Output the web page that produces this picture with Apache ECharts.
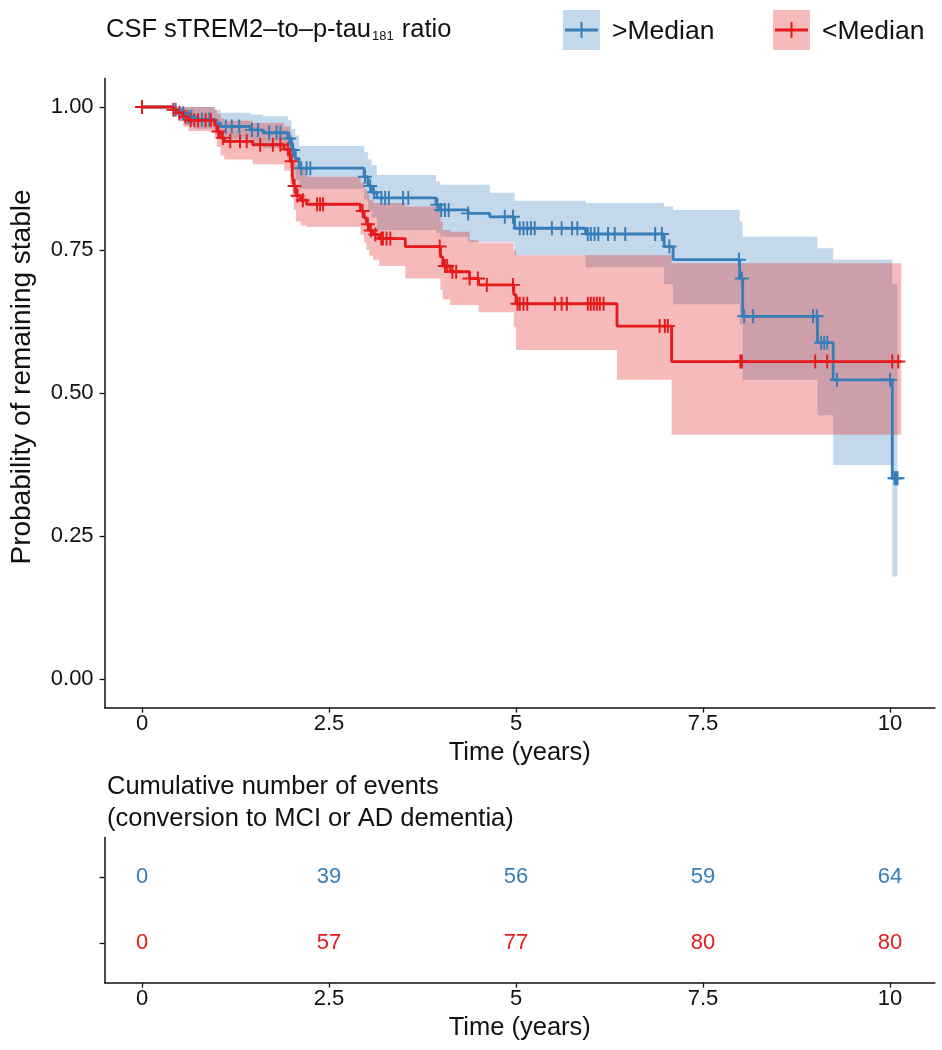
<!DOCTYPE html>
<html>
<head>
<meta charset="utf-8">
<script src="https://cdn.jsdelivr.net/npm/echarts@6/dist/echarts.min.js"></script>
<style>
html,body{margin:0;padding:0;background:#fff;}
#chart{width:942px;height:1050px;}
</style>
</head>
<body>
<div id="chart"></div>
<script>
// ---------- DATA ----------
const groupNames = ['>Median', '<Median'];
const groupRows = [1, 2];   // row positions in the events table (1 = top)

// >Median (blue) Kaplan-Meier step function
const blueTime  = [0, 0.42, 0.50, 0.58, 0.70, 0.98, 1.05, 1.45, 1.62, 1.95, 2.00, 2.05, 2.10, 2.97, 3.02, 3.07, 3.14, 3.93, 3.98, 4.36, 4.65, 4.98, 5.93, 6.98, 7.10, 7.99, 8.03, 9.03, 9.24, 10.03];
const blueSurv  = [1.000, 0.995, 0.989, 0.983, 0.978, 0.972, 0.966, 0.960, 0.955, 0.945, 0.925, 0.910, 0.893, 0.878, 0.862, 0.851, 0.841, 0.829, 0.820, 0.814, 0.808, 0.788, 0.778, 0.756, 0.733, 0.700, 0.634, 0.588, 0.523, 0.351];
const blueUpper = [1.000, 1.000, 1.000, 1.000, 1.000, 0.995, 0.990, 0.987, 0.984, 0.977, 0.962, 0.950, 0.932, 0.921, 0.908, 0.898, 0.881, 0.870, 0.864, 0.864, 0.850, 0.836, 0.832, 0.826, 0.820, 0.800, 0.773, 0.753, 0.733, 0.690];
const blueLower = [1.000, 0.985, 0.975, 0.968, 0.962, 0.952, 0.944, 0.936, 0.928, 0.915, 0.890, 0.873, 0.857, 0.838, 0.818, 0.806, 0.785, 0.780, 0.773, 0.764, 0.764, 0.741, 0.720, 0.690, 0.655, 0.620, 0.523, 0.461, 0.374, 0.179];
const blueEnd   = 10.10;
const blueCensor = [0.45, 0.55, 0.62, 0.66, 0.80, 0.90, 1.12, 1.20, 1.30, 1.47, 1.55, 1.70, 1.80, 1.85, 1.97, 2.02, 2.13, 2.20, 2.25, 2.98, 3.05, 3.10, 3.20, 3.25, 3.30, 3.49, 3.56, 3.95, 4.00, 4.05, 4.10, 4.36, 4.85, 4.96, 5.05, 5.10, 5.15, 5.20, 5.25, 5.48, 5.61, 5.75, 5.82, 5.96, 6.00, 6.05, 6.10, 6.23, 6.32, 6.46, 6.86, 6.95, 7.05, 7.98, 8.02, 8.05, 8.17, 8.97, 9.02, 9.08, 9.12, 9.16, 9.29, 10.00, 10.06, 10.08, 10.10];

// <Median (red) Kaplan-Meier step function
const redTime  = [0, 0.42, 0.48, 0.55, 0.62, 0.97, 1.00, 1.05, 1.10, 1.48, 1.90, 1.98, 2.01, 2.03, 2.06, 2.12, 2.20, 2.92, 2.97, 3.00, 3.04, 3.09, 3.17, 3.52, 3.99, 4.02, 4.12, 4.38, 4.50, 4.97, 5.00, 6.35, 7.08];
const redSurv  = [1.000, 0.995, 0.990, 0.983, 0.977, 0.968, 0.957, 0.946, 0.940, 0.934, 0.926, 0.905, 0.880, 0.862, 0.845, 0.837, 0.830, 0.818, 0.806, 0.795, 0.784, 0.777, 0.770, 0.756, 0.738, 0.722, 0.712, 0.700, 0.689, 0.672, 0.656, 0.617, 0.555];
const redUpper = [1.000, 1.000, 1.000, 1.000, 1.000, 0.995, 0.988, 0.980, 0.976, 0.972, 0.966, 0.951, 0.930, 0.915, 0.900, 0.890, 0.878, 0.868, 0.857, 0.848, 0.838, 0.832, 0.832, 0.826, 0.800, 0.785, 0.782, 0.767, 0.763, 0.750, 0.741, 0.741, 0.727];
const redLower = [1.000, 0.985, 0.975, 0.966, 0.958, 0.945, 0.930, 0.915, 0.908, 0.900, 0.889, 0.866, 0.840, 0.820, 0.800, 0.793, 0.790, 0.777, 0.763, 0.750, 0.740, 0.733, 0.722, 0.700, 0.680, 0.664, 0.654, 0.654, 0.641, 0.615, 0.575, 0.523, 0.427];
const redEnd   = 10.15;
const redCensor = [0.00, 0.42, 0.50, 0.58, 0.65, 0.70, 0.75, 0.85, 0.92, 1.02, 1.08, 1.18, 1.31, 1.40, 1.58, 1.75, 1.85, 1.95, 2.00, 2.04, 2.08, 2.15, 2.34, 2.38, 2.42, 2.95, 3.02, 3.06, 3.12, 3.20, 3.22, 3.27, 3.32, 3.98, 4.05, 4.08, 4.15, 4.20, 4.38, 4.49, 4.61, 4.96, 5.02, 5.05, 5.10, 5.15, 5.52, 5.61, 5.68, 5.96, 6.00, 6.04, 6.08, 6.12, 6.17, 6.92, 6.99, 7.03, 8.00, 8.02, 9.00, 9.16, 10.03, 10.11];

// Events table: cumulative number of events
const tableTimes  = [0, 2.5, 5, 7.5, 10];
const blueEvents  = [0, 39, 56, 59, 64];
const redEvents   = [0, 57, 77, 80, 80];

// Axis ticks
const xTicks = [0, 2.5, 5, 7.5, 10];
const xTickLabels = ['0', '2.5', '5', '7.5', '10'];
const yTicks = [0, 0.25, 0.5, 0.75, 1];
const yTickLabels = ['0.00', '0.25', '0.50', '0.75', '1.00'];

// ---------- STYLE ----------
const BLUE = '#377EB8', RED = '#E41A1C';
const BLUE_BAND = 'rgba(55,126,184,0.30)', RED_BAND = 'rgba(228,26,28,0.30)';
const FONT = "'Liberation Sans', Arial, Helvetica, sans-serif";
const TXT = '#111';
const TICK_FS = 22, TITLE_FS = 25.5;

function survAt(times, surv, t) {
  let v = surv[0];
  for (let i = 0; i < times.length; i++) { if (times[i] <= t) v = surv[i]; }
  return v;
}
function lineData(times, surv, end) {
  const d = times.map((t, i) => [t, surv[i]]);
  d.push([end, surv[surv.length - 1]]);
  return d;
}
function censorData(times, surv, cens) {
  return cens.map(t => [t, survAt(times, surv, t)]);
}
function bandSeries(times, up, lo, end, color) {
  return {
    type: 'custom', xAxisIndex: 0, yAxisIndex: 0, silent: true,
    data: [[0]],
    renderItem: function (params, api) {
      const pts = [];
      for (let i = 0; i < times.length; i++) {
        const t1 = i + 1 < times.length ? times[i + 1] : end;
        pts.push(api.coord([times[i], up[i]]));
        pts.push(api.coord([t1, up[i]]));
      }
      for (let i = times.length - 1; i >= 0; i--) {
        const t1 = i + 1 < times.length ? times[i + 1] : end;
        pts.push(api.coord([t1, lo[i]]));
        pts.push(api.coord([times[i], lo[i]]));
      }
      return { type: 'polygon', shape: { points: pts }, style: { fill: color } };
    }
  };
}
const PLUS = 'path://M0.43,0H0.57V0.43H1V0.57H0.57V1H0.43V0.57H0V0.43H0.43Z';

const axisLineStyle = { color: '#111', width: 1.5 };
const tickStyle = { color: '#111', width: 1.3 };

function xAxisCfg(gridIndex) {
  return {
    gridIndex: gridIndex, type: 'value', min: -0.5, max: 10.6,
    axisLine: { show: true, onZero: false, lineStyle: axisLineStyle },
    axisTick: { show: true, length: 5, lineStyle: tickStyle, customValues: xTicks },
    axisLabel: { customValues: xTicks, formatter: v => xTickLabels[xTicks.indexOf(v)], color: TXT, fontSize: TICK_FS, margin: 5, fontFamily: FONT },
    splitLine: { show: false },
    name: 'Time (years)', nameLocation: 'middle', nameGap: 32,
    nameTextStyle: { color: TXT, fontSize: TITLE_FS, fontFamily: FONT }
  };
}

const chart = echarts.init(document.getElementById('chart'), null, { renderer: 'canvas' });
const option = {
  animation: false,
  backgroundColor: '#fff',
  textStyle: { fontFamily: FONT },
  grid: [
    { left: 104.6, top: 78.4, width: 830.3, height: 629.2 },
    { left: 104.6, top: 837.4, width: 830.3, height: 145.2 }
  ],
  xAxis: [xAxisCfg(0), xAxisCfg(1)],
  yAxis: [
    {
      gridIndex: 0, type: 'value', min: -0.05, max: 1.05,
      axisLine: { show: true, onZero: false, lineStyle: axisLineStyle },
      axisTick: { show: true, length: 5, lineStyle: tickStyle, customValues: yTicks },
      axisLabel: { customValues: yTicks, formatter: v => yTickLabels[yTicks.indexOf(v)], color: TXT, fontSize: TICK_FS, margin: 11, fontFamily: FONT },
      splitLine: { show: false }
    },
    {
      gridIndex: 1, type: 'value', min: 0.4, max: 2.6, inverse: true,
      axisLine: { show: true, onZero: false, lineStyle: axisLineStyle },
      axisTick: { show: true, length: 5, lineStyle: tickStyle, customValues: groupRows },
      axisLabel: { show: false, customValues: groupRows },
      splitLine: { show: false }
    }
  ],
  series: [
    bandSeries(blueTime, blueUpper, blueLower, blueEnd, BLUE_BAND),
    {
      type: 'line', xAxisIndex: 0, yAxisIndex: 0, step: 'end', showSymbol: false, silent: true,
      data: lineData(blueTime, blueSurv, blueEnd),
      lineStyle: { color: BLUE, width: 2.8 }, itemStyle: { color: BLUE }
    },
    {
      type: 'scatter', xAxisIndex: 0, yAxisIndex: 0, silent: true,
      data: censorData(blueTime, blueSurv, blueCensor),
      symbol: PLUS, symbolSize: 14, itemStyle: { color: BLUE, opacity: 1 }
    },
    bandSeries(redTime, redUpper, redLower, redEnd, RED_BAND),
    {
      type: 'line', xAxisIndex: 0, yAxisIndex: 0, step: 'end', showSymbol: false, silent: true,
      data: lineData(redTime, redSurv, redEnd),
      lineStyle: { color: RED, width: 2.8 }, itemStyle: { color: RED }
    },
    {
      type: 'scatter', xAxisIndex: 0, yAxisIndex: 0, silent: true,
      data: censorData(redTime, redSurv, redCensor),
      symbol: PLUS, symbolSize: 14, itemStyle: { color: RED, opacity: 1 }
    },
    {
      type: 'scatter', xAxisIndex: 1, yAxisIndex: 1, silent: true, name: groupNames[0],
      symbolSize: 0, itemStyle: { color: BLUE, opacity: 1 },
      data: tableTimes.map((t, i) => [t, groupRows[0], blueEvents[i]]),
      label: { show: true, position: 'inside', formatter: p => String(p.value[2]), color: BLUE, opacity: 1, fontSize: TICK_FS, fontFamily: FONT }
    },
    {
      type: 'scatter', xAxisIndex: 1, yAxisIndex: 1, silent: true, name: groupNames[1],
      symbolSize: 0, itemStyle: { color: RED, opacity: 1 },
      data: tableTimes.map((t, i) => [t, groupRows[1], redEvents[i]]),
      label: { show: true, position: 'inside', formatter: p => String(p.value[2]), color: RED, opacity: 1, fontSize: TICK_FS, fontFamily: FONT }
    }
  ],
  graphic: [
    {
      type: 'text', x: 22, y: 377, rotation: Math.PI / 2,
      style: { text: 'Probability of remaining stable', fontSize: 28, fontFamily: FONT, fill: TXT, align: 'center', verticalAlign: 'middle' }
    },
    {
      type: 'text', left: 106, top: 17,
      style: {
        text: '{a|CSF sTREM2–to–p-tau}{s|181}{a| ratio}',
        rich: {
          a: { fontSize: TITLE_FS, fontFamily: FONT, fill: TXT, lineHeight: 32, verticalAlign: 'bottom' },
          s: { fontSize: 13, fontFamily: FONT, fill: TXT, lineHeight: 13, verticalAlign: 'bottom', padding: [0, 1, 0, 1] }
        }
      }
    },
    { type: 'rect', shape: { x: 563, y: 10, width: 37, height: 40 }, style: { fill: BLUE_BAND } },
    { type: 'line', shape: { x1: 565, y1: 30, x2: 598, y2: 30 }, style: { stroke: BLUE, lineWidth: 2.8 } },
    { type: 'line', shape: { x1: 581.5, y1: 22, x2: 581.5, y2: 38 }, style: { stroke: BLUE, lineWidth: 2 } },
    { type: 'text', left: 612, top: 18, style: { text: '>Median', fontSize: 26.5, fontFamily: FONT, fill: TXT } },
    { type: 'rect', shape: { x: 773, y: 10, width: 37, height: 40 }, style: { fill: RED_BAND } },
    { type: 'line', shape: { x1: 775, y1: 30, x2: 808, y2: 30 }, style: { stroke: RED, lineWidth: 2.8 } },
    { type: 'line', shape: { x1: 791.5, y1: 22, x2: 791.5, y2: 38 }, style: { stroke: RED, lineWidth: 2 } },
    { type: 'text', left: 822, top: 18, style: { text: '<Median', fontSize: 26.5, fontFamily: FONT, fill: TXT } },
    {
      type: 'text', left: 107, top: 771,
      style: { text: 'Cumulative number of events\n(conversion to MCI or AD dementia)', fontSize: TITLE_FS, lineHeight: 32, fontFamily: FONT, fill: TXT }
    }
  ]
};
chart.setOption(option);
</script>
</body>
</html>
